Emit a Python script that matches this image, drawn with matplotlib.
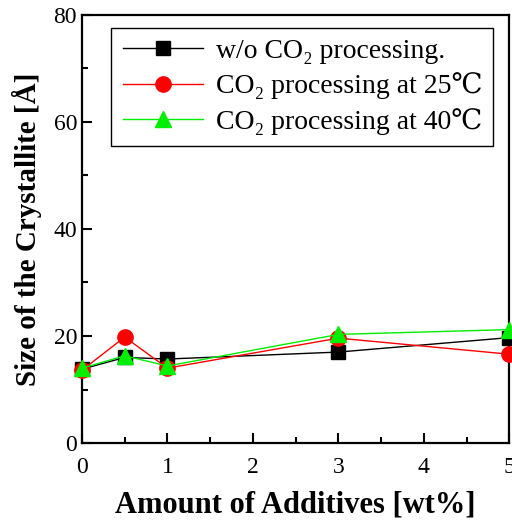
import matplotlib
matplotlib.use('Agg')
import matplotlib.pyplot as plt
from matplotlib.ticker import MultipleLocator

# amount of additives [wt%]
additives = [0, 0.5, 1, 3, 5]
# crystallite size [A]
size_no_co2 = [13.8, 16.0, 15.7, 17.0, 19.7]
size_co2_25 = [13.6, 19.8, 14.0, 19.6, 16.6]
size_co2_40 = [14.0, 16.3, 14.4, 20.3, 21.2]

labels = ['w/o CO\u2082 processing.',
          'CO\u2082 processing at 25\u2103',
          'CO\u2082 processing at 40\u2103']

plt.rcParams['font.family'] = ['Liberation Serif', 'DejaVu Serif', 'DejaVu Sans']

fig = plt.figure(figsize=(5.12, 5.25), dpi=100)
ax = fig.add_axes([0.160, 0.156, 0.835, 0.816])

ax.plot(additives, size_no_co2, color='black', marker='s', ms=10, lw=1, label=labels[0], clip_on=False, zorder=3)
ax.plot(additives, size_co2_25, color='red', marker='o', ms=11, lw=1, label=labels[1], clip_on=False, zorder=4)
ax.plot(additives, size_co2_40, color='#00ee00', marker='^', ms=12, lw=1, label=labels[2], clip_on=False, zorder=5)

ax.set_xlim(0, 5)
ax.set_ylim(0, 80)
ax.xaxis.set_major_locator(MultipleLocator(1))
ax.xaxis.set_minor_locator(MultipleLocator(0.5))
ax.yaxis.set_major_locator(MultipleLocator(20))
ax.yaxis.set_minor_locator(MultipleLocator(10))
ax.tick_params(which='both', direction='in', width=1.5, labelsize=17)
ax.tick_params(which='major', length=7)
ax.tick_params(which='minor', length=4)
ax.tick_params(axis='x', pad=10)
for s in ax.spines.values():
    s.set_linewidth(1.6)

ax.set_xlabel('Amount of Additives [wt%]', fontsize=22, fontweight='bold', labelpad=9)
ax.set_ylabel('Size of the Crystallite [\u00c5]', fontsize=21, fontweight='bold', labelpad=8)

leg = ax.legend(loc='upper left', bbox_to_anchor=(0.069, 0.970), borderaxespad=0,
                fontsize=20, handlelength=2.9, handletextpad=0.45, labelspacing=0.3,
                borderpad=0.4, fancybox=False, edgecolor='black', framealpha=1)
leg.get_frame().set_linewidth(1)

plt.savefig('out.png', dpi=100)
